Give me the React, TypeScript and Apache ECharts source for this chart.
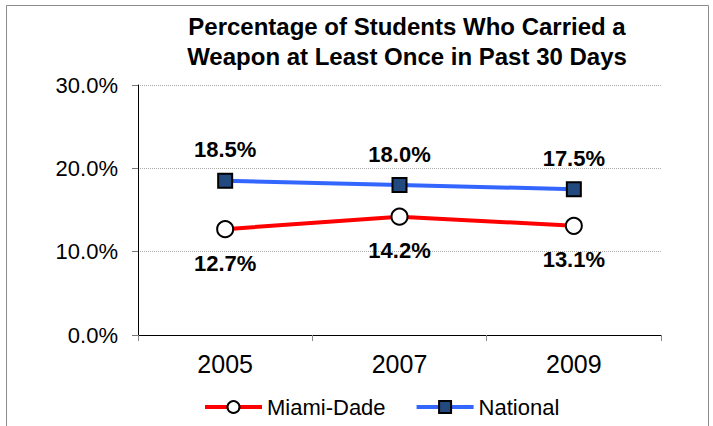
import React, { useEffect, useRef } from "react";
import * as echarts from "echarts";

const years = ["2005", "2007", "2009"];
const miamiDade = [12.7, 14.2, 13.1];
const national = [18.5, 18.0, 17.5];
const titleLines = [
  "Percentage of Students Who Carried a",
  "Weapon at Least Once in Past 30 Days",
];

const FONT = '"Liberation Sans", Arial, Helvetica, sans-serif';

export default function App() {
  const ref = useRef<HTMLDivElement>(null);
  useEffect(() => {
    if (!ref.current) return;
    const chart = echarts.init(ref.current, undefined, { renderer: "svg" });
    chart.setOption({
      animation: false,
      backgroundColor: "#ffffff",
      textStyle: { fontFamily: FONT },
      graphic: [
        {
          type: "rect",
          shape: { x: 6.5, y: 5.5, width: 702, height: 440 },
          style: { fill: "none", stroke: "#8c8c8c", lineWidth: 1 },
          silent: true,
        },
        {
          type: "text",
          x: 407,
          y: 11,
          style: {
            text: titleLines.join("\n"),
            font: `bold 24px ${FONT}`,
            textAlign: "center",
            textVerticalAlign: "top",
            lineHeight: 30,
            fill: "#000000",
          },
        },
      ],
      grid: { left: 138, top: 85, width: 523, height: 250, containLabel: false },
      legend: {
        data: ["Miami-Dade", "National"],
        left: 203,
        top: 396,
        padding: 0,
        itemWidth: 57,
        itemHeight: 15,
        itemGap: 29,
        lineStyle: { width: 4 },
        textStyle: { fontSize: 22, color: "#000", fontFamily: FONT },
      },
      xAxis: {
        type: "category",
        data: years,
        boundaryGap: true,
        axisLine: { show: true, lineStyle: { color: "#000", width: 1 } },
        axisTick: { show: true, length: 6, lineStyle: { color: "#888" } },
        axisLabel: { fontSize: 25, color: "#000", margin: 16, fontFamily: FONT },
        splitLine: { show: false },
      },
      yAxis: {
        type: "value",
        min: 0,
        max: 30,
        interval: 10,
        axisLine: { show: true, lineStyle: { color: "#000", width: 1 } },
        axisTick: { show: true, length: 6, lineStyle: { color: "#777" } },
        axisLabel: {
          fontSize: 22,
          color: "#000",
          margin: 20,
          fontFamily: FONT,
          formatter: (v: number) => `${v.toFixed(1)}%`,
        },
        splitLine: { show: true, lineStyle: { color: "#aaa", type: "dotted", width: 1 } },
      },
      series: [
        {
          name: "Miami-Dade",
          type: "line",
          data: miamiDade,
          symbol: "circle",
          symbolSize: 16,
          lineStyle: { color: "#ff0000", width: 4 },
          itemStyle: { color: "#ffffff", borderColor: "#000", borderWidth: 2 },
          label: {
            show: true,
            position: "bottom",
            distance: 14,
            fontSize: 22,
            fontWeight: "bold",
            color: "#000",
            fontFamily: FONT,
            formatter: (p: any) => `${Number(p.value).toFixed(1)}%`,
          },
          z: 3,
        },
        {
          name: "National",
          type: "line",
          data: national,
          symbol: "rect",
          symbolSize: 14,
          lineStyle: { color: "#3366ff", width: 4 },
          itemStyle: { color: "#234a7e", borderColor: "#000", borderWidth: 2 },
          label: {
            show: true,
            position: "top",
            distance: 12,
            fontSize: 22,
            fontWeight: "bold",
            color: "#000",
            fontFamily: FONT,
            formatter: (p: any) => `${Number(p.value).toFixed(1)}%`,
          },
          z: 3,
        },
      ],
    });
    return () => chart.dispose();
  }, []);
  return (
    <div
      ref={ref}
      style={{ position: "fixed", left: 0, top: 0, width: 713, height: 426, background: "#fff" }}
    />
  );
}
